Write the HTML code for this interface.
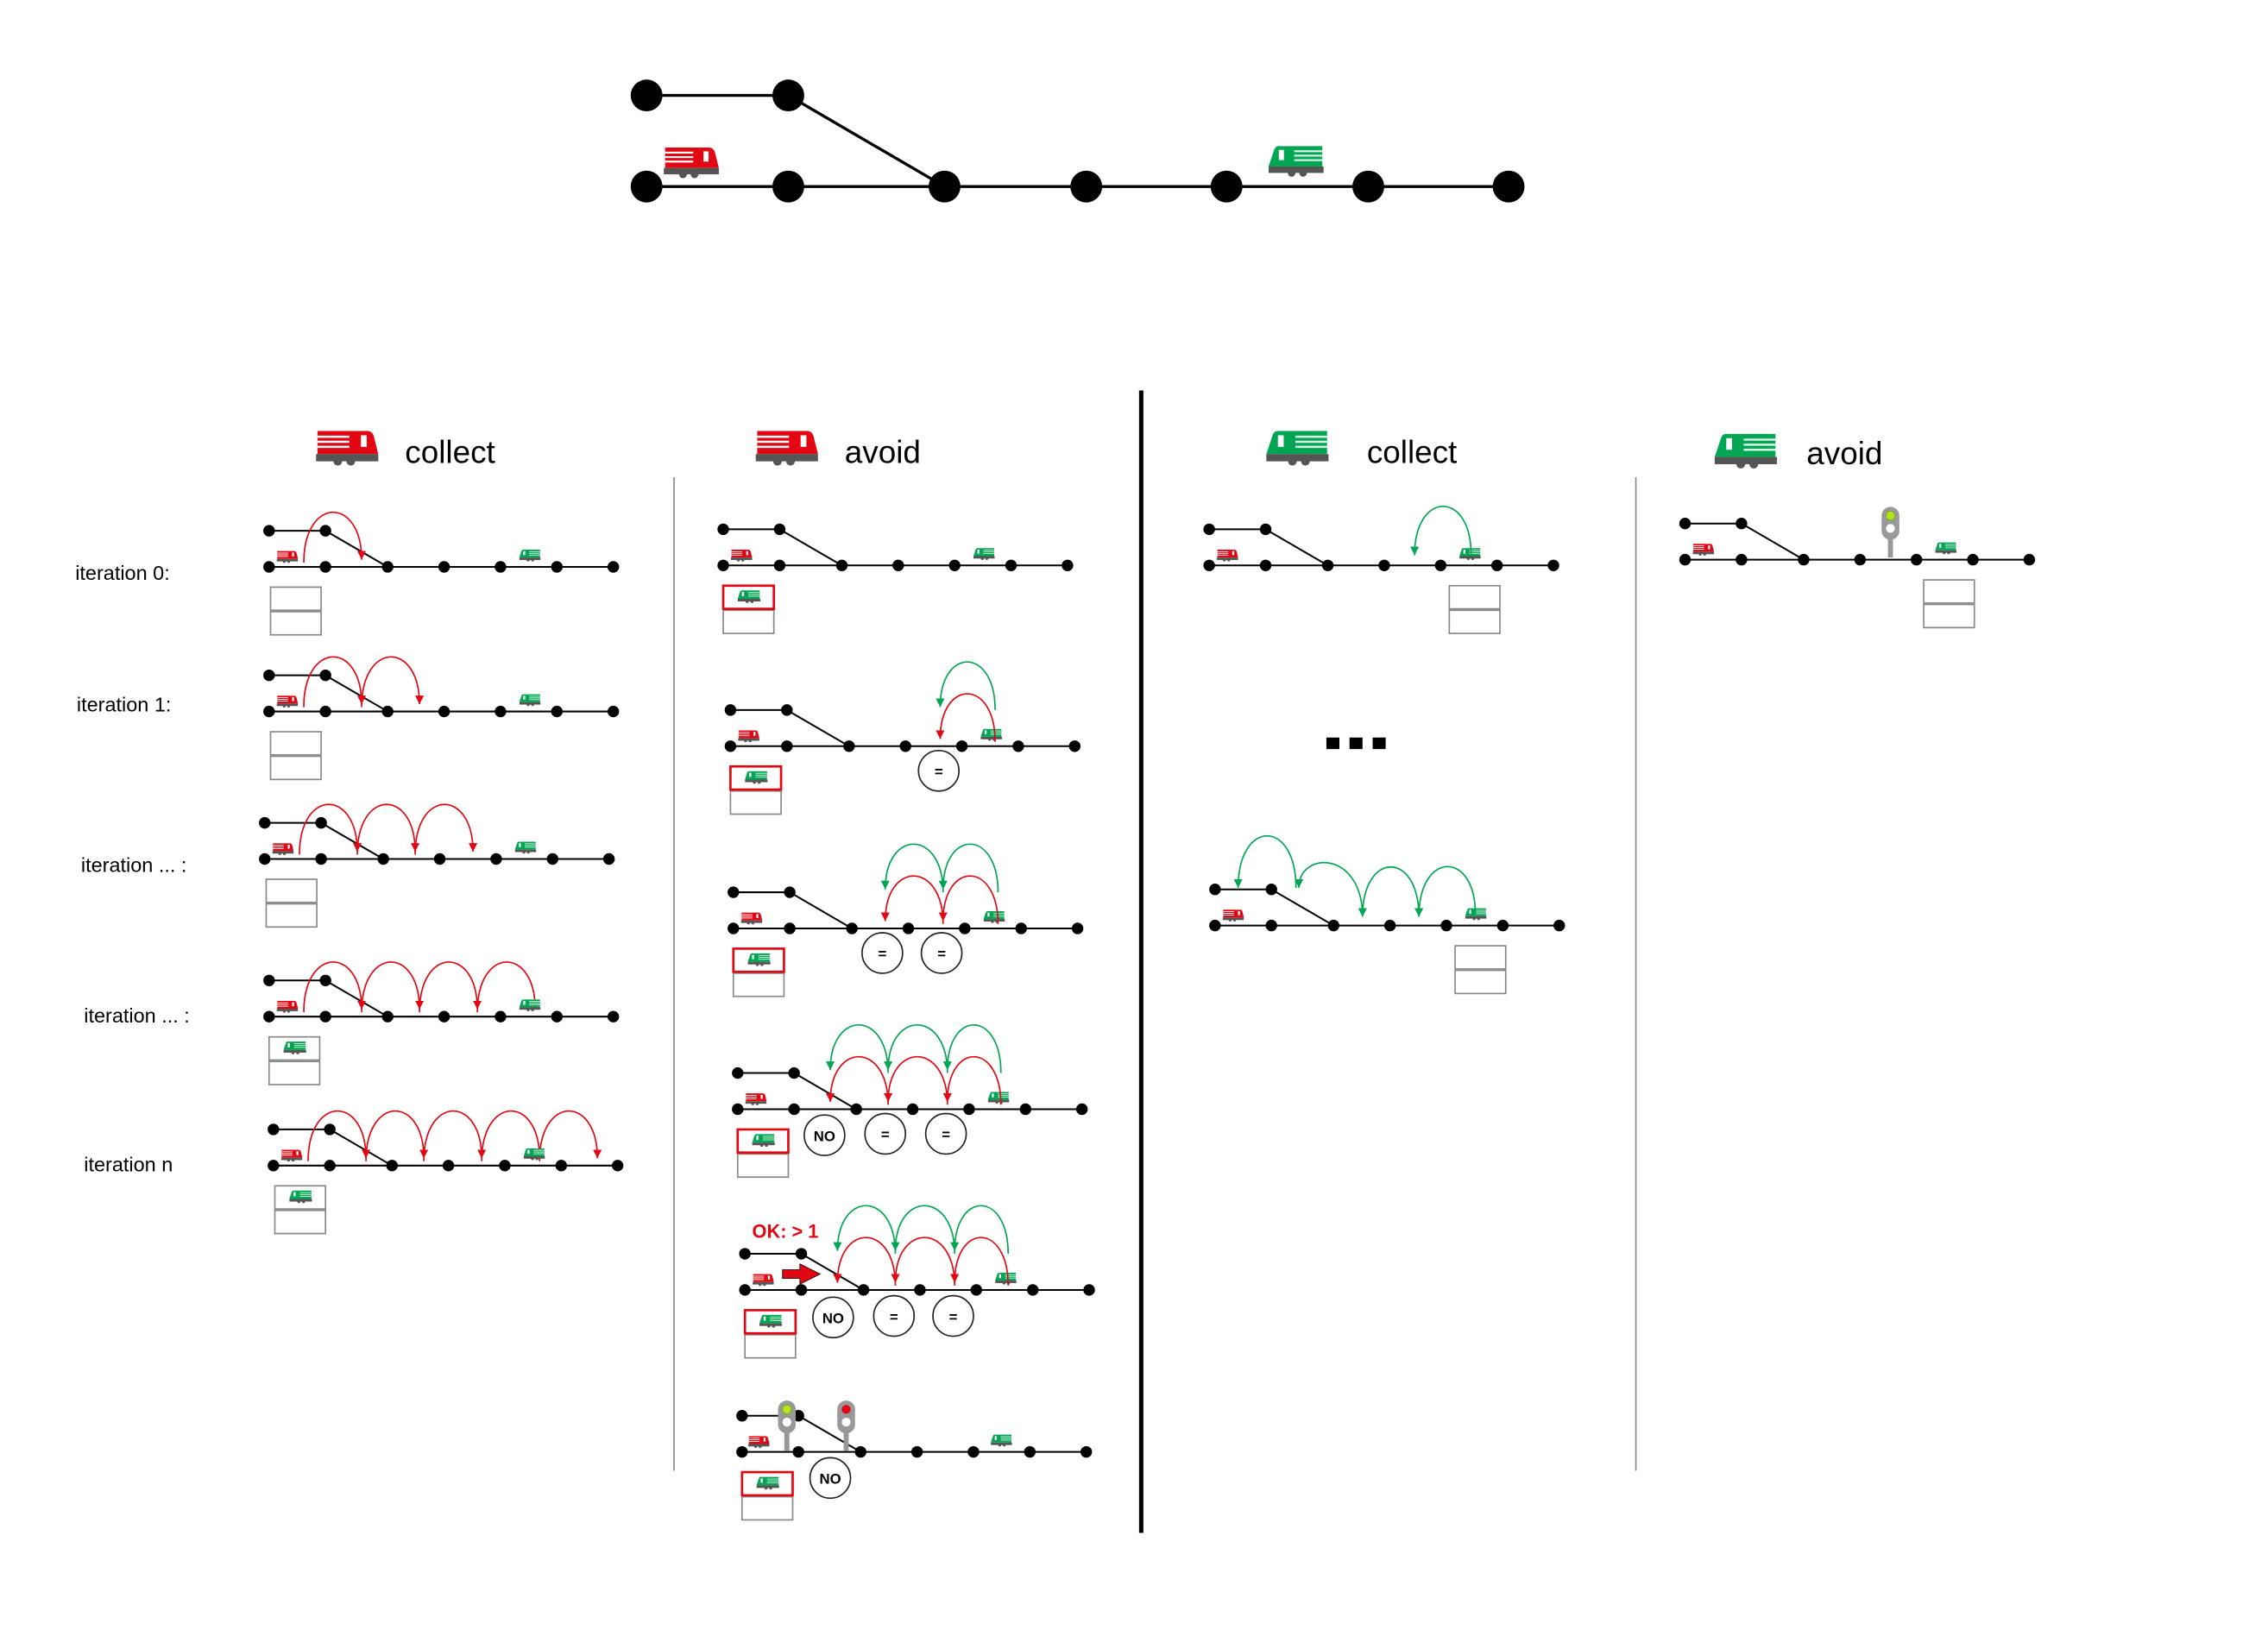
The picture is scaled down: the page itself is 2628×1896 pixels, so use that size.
<!DOCTYPE html>
<html><head><meta charset="utf-8"><style>html,body{margin:0;padding:0;background:#fff}svg{display:block}</style></head>
<body>
<svg width="2628" height="1896" viewBox="0 0 1568 1131.3" xmlns="http://www.w3.org/2000/svg" font-family="Liberation Sans, Arial, sans-serif">
<defs>
<symbol id="rt" viewBox="0 0 44 26"><path d="M2 0H36Q40 0 41 4L44 16H2Z" fill="#e30613"/><path d="M2 4H24M2 7.5H24M2 11H24" stroke="#fff" stroke-width="1.5"/><rect x="32" y="3" width="4" height="8" fill="#fff"/><rect x="1" y="16" width="43" height="5" fill="#555"/><circle cx="16" cy="21" r="3" fill="#555"/><circle cx="25" cy="21" r="3" fill="#555"/></symbol>
<symbol id="gt" viewBox="0 0 44 26"><path d="M8 0H42V16H0L4 4Q5 0 8 0Z" fill="#00a651"/><path d="M20 4H42M20 7.5H42M20 11H42" stroke="#fff" stroke-width="1.5" opacity=".85"/><rect x="8" y="3" width="4" height="8" fill="#fff"/><rect x="0" y="16" width="43" height="5" fill="#555"/><circle cx="18" cy="21" r="3" fill="#555"/><circle cx="27" cy="21" r="3" fill="#555"/></symbol>
<g id="trk" stroke="#000" stroke-width="1.2"><path d="M0 -25H39L82 0M0 0H238" fill="none"/><g fill="#000" stroke="none"><circle cx="0" cy="-25" r="4"/><circle cx="39" cy="-25" r="4"/><circle cx="0" cy="0" r="4"/><circle cx="39" cy="0" r="4"/><circle cx="82" cy="0" r="4"/><circle cx="121" cy="0" r="4"/><circle cx="160" cy="0" r="4"/><circle cx="199" cy="0" r="4"/><circle cx="238" cy="0" r="4"/></g></g>
<g id="bx" fill="none" stroke="#888" stroke-width="1"><rect x="0" y="0" width="35" height="16"/><rect x="0" y="17" width="35" height="16"/></g>
<g id="bxr"><rect x="0" y="17" width="35" height="16" fill="none" stroke="#888"/><rect x="0" y="0" width="35" height="16" fill="none" stroke="#e30613" stroke-width="1.6"/><use href="#gt" x="10" y="3" width="16" height="10"/></g>
<g id="bxg"><use href="#bx"/><use href="#gt" x="10" y="3" width="16" height="10"/></g>
<marker id="mr" viewBox="0 0 10 10" refX="10" refY="5" markerWidth="6" markerHeight="6" orient="auto" markerUnits="userSpaceOnUse"><path d="M0 0L10 5L0 10Z" fill="#e30613"/></marker>
<marker id="mg" viewBox="0 0 10 10" refX="10" refY="5" markerWidth="6" markerHeight="6" orient="auto" markerUnits="userSpaceOnUse"><path d="M0 0L10 5L0 10Z" fill="#00a651"/></marker>
<symbol id="sg" viewBox="0 0 16 40" overflow="visible"><rect x="1" y="0" width="14" height="26" rx="7" fill="#999"/><rect x="6" y="24" width="4" height="16" fill="#999"/><circle cx="8" cy="7" r="3.5" fill="#b5e61d" stroke="#7a0" stroke-width=".5"/><circle cx="8" cy="17" r="3.5" fill="#fff"/></symbol>
<symbol id="sr" viewBox="0 0 16 40" overflow="visible"><rect x="1" y="0" width="14" height="26" rx="7" fill="#999"/><rect x="6" y="24" width="4" height="16" fill="#999"/><circle cx="8" cy="7" r="3.5" fill="#e30613"/><circle cx="8" cy="17" r="3.5" fill="#fff"/></symbol>
</defs>

<!-- top diagram -->
<g stroke="#000" stroke-width="2" fill="none"><path d="M447 66H545L653 129M447 129H1043"/></g>
<g fill="#000"><circle cx="447" cy="66" r="11"/><circle cx="545" cy="66" r="11"/><circle cx="447" cy="129" r="11"/><circle cx="545" cy="129" r="11"/><circle cx="653" cy="129" r="11"/><circle cx="751" cy="129" r="11"/><circle cx="848" cy="129" r="11"/><circle cx="946" cy="129" r="11"/><circle cx="1043" cy="129" r="11"/></g>
<use href="#rt" x="458" y="102" width="39" height="23"/>
<use href="#gt" x="877" y="101" width="39" height="23"/>

<!-- dividers -->
<line x1="466" y1="330" x2="466" y2="1017" stroke="#888" stroke-width="1"/>
<line x1="789" y1="270" x2="789" y2="1060" stroke="#000" stroke-width="3"/>
<line x1="1131" y1="330" x2="1131" y2="1017" stroke="#888" stroke-width="1"/>

<!-- headers -->
<use href="#rt" x="217" y="298" width="45" height="26"/><text x="280" y="320" font-size="22">collect</text>
<use href="#rt" x="521" y="298" width="45" height="26"/><text x="584" y="320" font-size="22">avoid</text>
<use href="#gt" x="875" y="298" width="45" height="26"/><text x="945" y="320" font-size="22">collect</text>
<use href="#gt" x="1185" y="300" width="45" height="26"/><text x="1249" y="321" font-size="22">avoid</text>

<g font-size="14"><text x="52" y="401">iteration 0:</text><text x="53" y="492">iteration 1:</text><text x="56" y="603">iteration ... :</text><text x="58" y="707">iteration ... :</text><text x="58" y="810">iteration n</text></g>

<!-- column 1 -->
<use href="#trk" x="186" y="392"/>
<use href="#trk" x="186" y="492"/>
<use href="#trk" x="183" y="594"/>
<use href="#trk" x="186" y="703"/>
<use href="#trk" x="189" y="806"/>
<g fill="none" stroke="#e30613" stroke-width="1" marker-end="url(#mr)">
<path d="M210 389C210 343 250 343 250 387"/>
<path d="M210 489C210 443 250 443 250 487"/><path d="M250 489C250 443 290 443 290 487"/>
<path d="M207 591C207 545 247 545 247 589"/><path d="M247 591C247 545 287 545 287 589"/><path d="M287 591C287 545 327 545 327 589"/>
<path d="M210 700C210 654 250 654 250 698"/><path d="M250 700C250 654 290 654 290 698"/><path d="M290 700C290 654 330 654 330 698"/><path d="M330 700C330 654 370 654 370 698"/>
<path d="M213 803C213 757 253 757 253 801"/><path d="M253 803C253 757 293 757 293 801"/><path d="M293 803C293 757 333 757 333 801"/><path d="M333 803C333 757 373 757 373 801"/><path d="M373 803C373 757 413 757 413 801"/>
</g>
<use href="#rt" x="191" y="381" width="15" height="9"/><use href="#gt" x="359" y="380" width="15" height="9"/><use href="#bx" x="187" y="406"/>
<use href="#rt" x="191" y="481" width="15" height="9"/><use href="#gt" x="359" y="480" width="15" height="9"/><use href="#bx" x="187" y="506"/>
<use href="#rt" x="188" y="583" width="15" height="9"/><use href="#gt" x="356" y="582" width="15" height="9"/><use href="#bx" x="184" y="608"/>
<use href="#rt" x="191" y="692" width="15" height="9"/><use href="#gt" x="359" y="691" width="15" height="9"/><use href="#bxg" x="186" y="717"/>
<use href="#rt" x="194" y="795" width="15" height="9"/><use href="#gt" x="362" y="794" width="15" height="9"/><use href="#bxg" x="190" y="820"/>

<!-- column 2 -->
<use href="#trk" x="500" y="391"/><use href="#rt" x="505" y="380" width="15" height="9"/><use href="#gt" x="673" y="379" width="15" height="9"/><use href="#bxr" x="500" y="405"/>

<use href="#trk" x="505" y="516"/><use href="#rt" x="510" y="505" width="15" height="9"/><use href="#gt" x="678" y="504" width="15" height="9"/><use href="#bxr" x="505" y="530"/>
<g fill="none" stroke-width="1"><path d="M688 513C688 469 650 469 650 511" stroke="#e30613" marker-end="url(#mr)"/><path d="M688 491C688 447 650 447 650 489" stroke="#00a651" marker-end="url(#mg)"/></g>

<use href="#trk" x="507" y="642"/><use href="#rt" x="512" y="631" width="15" height="9"/><use href="#gt" x="680" y="630" width="15" height="9"/><use href="#bxr" x="507" y="656"/>
<g fill="none" stroke-width="1"><g stroke="#e30613" marker-end="url(#mr)"><path d="M690 639C690 595 652 595 652 637"/><path d="M652 639C652 595 612 595 612 637"/></g><g stroke="#00a651" marker-end="url(#mg)"><path d="M690 617C690 573 652 573 652 615"/><path d="M652 617C652 573 612 573 612 615"/></g></g>

<use href="#trk" x="510" y="767"/><use href="#rt" x="515" y="756" width="15" height="9"/><use href="#gt" x="683" y="755" width="15" height="9"/><use href="#bxr" x="510" y="781"/>
<g fill="none" stroke-width="1"><g stroke="#e30613" marker-end="url(#mr)"><path d="M692 764C692 720 655 720 655 762"/><path d="M655 764C655 720 614 720 614 762"/><path d="M614 764C614 720 574 720 574 762"/></g><g stroke="#00a651" marker-end="url(#mg)"><path d="M692 742C692 698 655 698 655 740"/><path d="M655 742C655 698 614 698 614 740"/><path d="M614 742C614 698 574 698 574 740"/></g></g>

<use href="#trk" x="515" y="892"/><use href="#rt" x="520" y="881" width="15" height="9"/><use href="#gt" x="688" y="880" width="15" height="9"/><use href="#bxr" x="515" y="906"/>
<g fill="none" stroke-width="1"><g stroke="#e30613" marker-end="url(#mr)"><path d="M697 889C697 845 660 845 660 887"/><path d="M660 889C660 845 619 845 619 887"/><path d="M619 889C619 845 579 845 579 887"/></g><g stroke="#00a651" marker-end="url(#mg)"><path d="M697 867C697 823 660 823 660 865"/><path d="M660 867C660 823 619 823 619 865"/><path d="M619 867C619 823 579 823 579 865"/></g></g>
<text x="520" y="856" font-size="13" font-weight="bold" fill="#e30613">OK: &gt; 1</text>
<path d="M541 878H553V874L567 881L553 888V884H541Z" fill="#e30613" stroke="#000" stroke-width=".5"/>

<use href="#trk" x="513" y="1004"/><use href="#rt" x="517" y="993" width="15" height="9"/><use href="#gt" x="685" y="992" width="15" height="9"/><use href="#bxr" x="513" y="1018"/>
<use href="#sg" x="537" y="968" width="14" height="36"/><use href="#sr" x="578" y="968" width="14" height="36"/>

<!-- circles -->
<g fill="#fff" stroke="#222" stroke-width="1">
<circle cx="649" cy="533" r="14"/><circle cx="610" cy="659" r="14"/><circle cx="651" cy="659" r="14"/>
<circle cx="570" cy="785" r="14"/><circle cx="612" cy="784" r="14"/><circle cx="654" cy="784" r="14"/>
<circle cx="576" cy="911" r="14"/><circle cx="618" cy="910" r="14"/><circle cx="659" cy="910" r="14"/>
<circle cx="574" cy="1022" r="14"/></g>
<g font-size="10" font-weight="bold" text-anchor="middle">
<text x="649" y="537">=</text><text x="610" y="663">=</text><text x="651" y="663">=</text>
<text x="570" y="789">NO</text><text x="612" y="788">=</text><text x="654" y="788">=</text>
<text x="576" y="915">NO</text><text x="618" y="914">=</text><text x="659" y="914">=</text>
<text x="574" y="1026">NO</text></g>

<!-- column 3 -->
<use href="#trk" x="836" y="391"/><use href="#rt" x="841" y="380" width="15" height="9"/><use href="#gt" x="1009" y="379" width="15" height="9"/><use href="#bx" x="1002" y="405"/>
<path d="M1017 383C1017 339 978 339 978 384" fill="none" stroke="#00a651" marker-end="url(#mg)"/>
<rect x="917" y="510" width="9" height="8"/><rect x="933" y="510" width="9" height="8"/><rect x="949" y="510" width="9" height="8"/>
<use href="#trk" x="840" y="640"/><use href="#rt" x="845" y="629" width="15" height="9"/><use href="#gt" x="1013" y="628" width="15" height="9"/><use href="#bx" x="1006" y="654"/>
<g fill="none" stroke="#00a651" stroke-width="1" marker-end="url(#mg)"><path d="M1020 632C1020 588 981 588 981 634"/><path d="M981 634C981 588 942 588 942 634"/><path d="M942 634C942 588 898 588 898 614"/><path d="M896 614C896 566 856 566 856 614"/></g>

<!-- column 4 -->
<use href="#trk" x="1165" y="387"/><use href="#rt" x="1170" y="376" width="15" height="9"/><use href="#gt" x="1338" y="375" width="15" height="9"/><use href="#bx" x="1330" y="401"/>
<use href="#sg" x="1300" y="350" width="14" height="36"/>
</svg>
</body></html>
